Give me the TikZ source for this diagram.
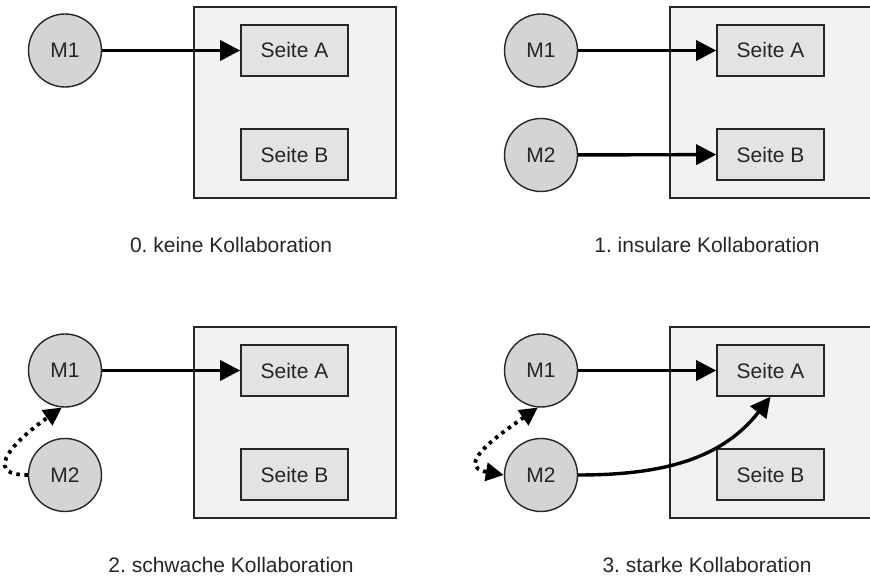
\documentclass[tikz,border=0pt]{standalone}
\usepackage{fontspec}
\setmainfont{Liberation Sans}
\usetikzlibrary{arrows.meta}
\frenchspacing

\begin{document}
\begin{tikzpicture}[x=1pt, y=1pt,
    panel/.style={draw=black!85, line width=1.6pt, fill=black!5},
    page/.style={draw=black!85, line width=1.6pt, fill=black!11, minimum width=107pt, minimum height=51pt, inner sep=0pt, font=\fontsize{21}{25}\selectfont, text=black!85},
    member/.style={circle, draw=black!85, line width=1.4pt, fill=black!17, minimum size=73pt, inner sep=0pt, font=\fontsize{21}{25}\selectfont, text=black!85},
    caption/.style={font=\fontsize{21}{25}\selectfont, text=black!85},
    link/.style={line width=3.4pt, -{Triangle[length=20pt,width=20pt]}},
    collab/.style={line width=3.8pt, dash pattern=on 3.5pt off 4.5pt, -{Triangle[length=18pt,width=18pt]}}]

\useasboundingbox (0,0) rectangle (870,581);

\foreach \i/\dx/\dy/\kind in {0/0/0/keine, 1/476/0/insulare, 2/0/-320/schwache, 3/476/-320/starke}{
    \begin{scope}[shift={(\dx,\dy)}]
    \draw[panel] (194,383) rectangle (396,574);
    \node[page] (A\i) at (294.5,530.5) {Seite A};
    \node[page] (B\i) at (294.5,426.5) {Seite B};
    \node[member] (Ma\i) at (65,530.5) {M1};
    \node[caption] (C\i) at (231,336) {\i. \kind\ Kollaboration};
    \draw[link] (Ma\i) -- (A\i);
    \end{scope}
}

\foreach \i/\dx/\dy in {1/476/0, 2/0/-320, 3/476/-320}{
    \node[member] (Mb\i) at (65+\dx,426+\dy) {M2};
}

\draw[link] (Mb1) -- (B1);

\draw[collab] (Mb2.west) to[out=180, in=215, looseness=1.7] (Ma2.-95);

\draw[collab, {Triangle[length=18pt,width=18pt]}-{Triangle[length=18pt,width=18pt]}] (Ma3.-95) to[out=215, in=170, looseness=1.7] (Mb3.west);
\draw[link] (Mb3.east) to[out=0, in=232] (A3.south);

\end{tikzpicture}
\end{document}
